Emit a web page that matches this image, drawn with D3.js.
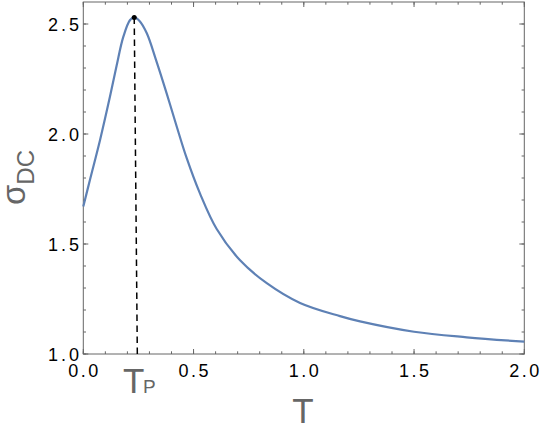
<!DOCTYPE html>
<html>
<head>
<meta charset="utf-8">
<script src="https://cdn.jsdelivr.net/npm/d3@7"></script>
<style>
  html, body { margin: 0; padding: 0; background: #fff; }
  svg { display: block; }
  .tick-label { font-family: "Liberation Sans", Arial, sans-serif; font-size: 18px; fill: #000; }
  .axis-label { font-family: "Liberation Sans", Arial, sans-serif; fill: #666; }
</style>
</head>
<body>
<svg id="chart" width="540" height="432"></svg>
<script>
// ---- data ----
const T = [0, 0.030, 0.076, 0.121, 0.151, 0.181, 0.212, 0.231, 0.255, 0.288, 0.330, 0.378, 0.424, 0.469, 0.529, 0.605, 0.711, 0.832, 0.983, 1.164, 1.255, 1.5, 1.739, 2.0];
const sigmaDC = [1.670, 1.791, 1.973, 2.170, 2.310, 2.440, 2.518, 2.530, 2.514, 2.458, 2.336, 2.185, 2.033, 1.890, 1.730, 1.568, 1.426, 1.322, 1.232, 1.172, 1.148, 1.101, 1.076, 1.056];
const peakT = 0.231;
const peakSigma = 2.53;
const peakBaseT = 0.245;
const xTicks = [0, 0.5, 1.0, 1.5, 2.0];
const xTickLabels = ["0.0", "0.5", "1.0", "1.5", "2.0"];
const yTicks = [1.0, 1.5, 2.0, 2.5];
const yTickLabels = ["1.0", "1.5", "2.0", "2.5"];
const xMinor = d3.range(0, 2.0001, 0.1);
const yMinor = d3.range(1.0, 2.55, 0.1);

// ---- layout ----
const L = 83.3, R = 524.3, TOP = 2, BOT = 354;
const svg = d3.select("#chart");
const x = d3.scaleLinear().domain([0, 2]).range([L, R]);
const y = d3.scaleLinear().domain([1, 2.6]).range([BOT, TOP]);
const frameColor = "#666";

// minor + major ticks (inward) on all four sides
function drawTicks(xs, ys, len) {
  const g = svg.append("g").attr("stroke", frameColor).attr("stroke-width", 1);
  xs.forEach(v => {
    const px = x(v);
    g.append("line").attr("x1", px).attr("x2", px).attr("y1", BOT).attr("y2", BOT - len);
    g.append("line").attr("x1", px).attr("x2", px).attr("y1", TOP).attr("y2", TOP + len);
  });
  ys.forEach(v => {
    const py = y(v);
    g.append("line").attr("x1", L).attr("x2", L + len).attr("y1", py).attr("y2", py);
    g.append("line").attr("x1", R).attr("x2", R - len).attr("y1", py).attr("y2", py);
  });
}
drawTicks(xMinor, yMinor, 2.7);
drawTicks(xTicks, yTicks, 5);

// frame
svg.append("rect").attr("x", L).attr("y", TOP).attr("width", R - L).attr("height", BOT - TOP)
  .attr("fill", "none").attr("stroke", frameColor).attr("stroke-width", 1);

// tick labels
svg.append("g").selectAll("text").data(xTicks).join("text")
  .attr("class", "tick-label")
  .attr("x", d => x(d)).attr("y", 377)
  .attr("text-anchor", "middle")
  .attr("textLength", 30).attr("lengthAdjust", "spacing")
  .text((d, i) => xTickLabels[i]);
svg.append("g").selectAll("text").data(yTicks).join("text")
  .attr("class", "tick-label")
  .attr("x", 79).attr("y", d => y(d) + 6.5)
  .attr("text-anchor", "end")
  .attr("textLength", 31).attr("lengthAdjust", "spacing")
  .text((d, i) => yTickLabels[i]);

// curve
const line = d3.line().x((d, i) => x(T[i])).y(d => y(d)).curve(d3.curveCatmullRom.alpha(0.5));
svg.append("path").datum(sigmaDC)
  .attr("d", line)
  .attr("fill", "none")
  .attr("stroke", "#5E81B5")
  .attr("stroke-width", 2.2)
  .attr("stroke-linejoin", "round");

// dashed marker line and peak dot
svg.append("line")
  .attr("x1", x(peakT)).attr("y1", y(peakSigma))
  .attr("x2", x(peakBaseT)).attr("y2", y(1))
  .attr("stroke", "#000").attr("stroke-width", 1.5)
  .attr("stroke-dasharray", "6.5,4.5");
svg.append("circle").attr("cx", x(peakT)).attr("cy", y(peakSigma)).attr("r", 2.5).attr("fill", "#000");

// axis labels
svg.append("text").attr("class", "axis-label")
  .attr("x", 303).attr("y", 423).attr("text-anchor", "middle")
  .style("font-size", "35px").text("T");

const tp = svg.append("text").attr("class", "axis-label")
  .attr("x", 123).attr("y", 393).style("font-size", "35px");
tp.append("tspan").text("T");
tp.append("tspan").attr("dx", -1.5).style("font-size", "19px").text("P");

const sg = svg.append("text").attr("class", "axis-label")
  .attr("transform", "translate(25,205) rotate(-90)")
  .style("font-size", "33px");
sg.append("tspan").text("σ");
sg.append("tspan").attr("dy", 9).style("font-size", "24px").text("DC");
</script>
</body>
</html>
